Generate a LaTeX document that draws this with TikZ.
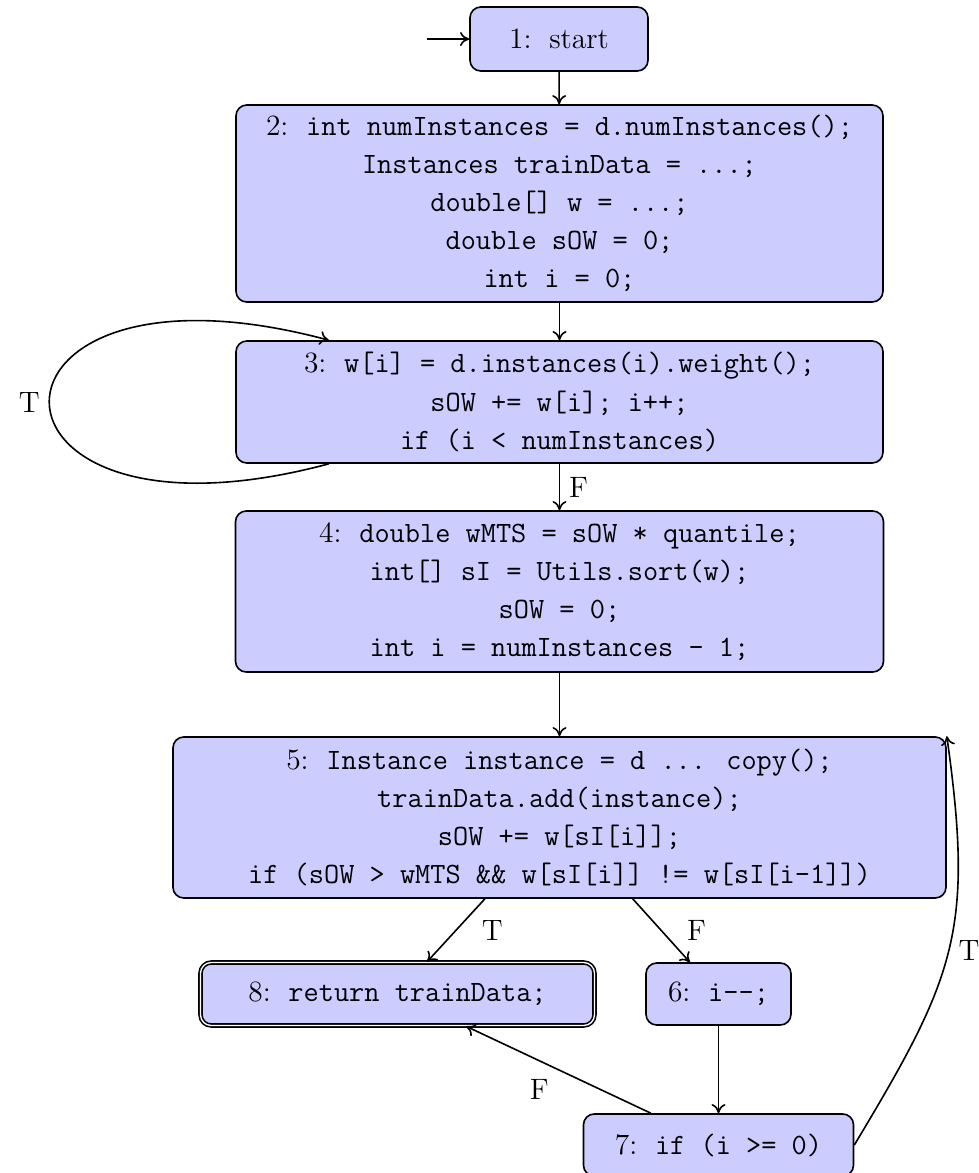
\documentclass[tikz,border=0pt]{standalone}
\usetikzlibrary{arrows.meta}
\newcommand{\gp}{\hspace{0.6em}}
\begin{document}
\begin{tikzpicture}[x=0.373pt,y=-0.373pt, semithick,
  >={To[length=3.4pt,width=5.2pt]},
  every node/.style={font=\fontsize{11}{14.2}\selectfont},
  stmt/.style={draw, fill=blue!20, rounded corners=4pt, align=center, inner sep=0pt},
  acc/.style={stmt, double, double distance=0.5pt},
  flow/.style={->}]
\useasboundingbox (0,0) rectangle (979,1173);

\node[stmt, minimum width=66.39pt, minimum height=23.87pt] (n1) at (559,39) {1:\gp start};
\node[stmt, minimum width=241.33pt, minimum height=73.48pt] (n2) at (559.5,203.5)
  {2:\gp\texttt{int numInstances = d.numInstances();}\\
   \texttt{Instances trainData = ...;}\\
   \texttt{double[] w = ...;}\\
   \texttt{double sOW = 0;}\\
   \texttt{int i = 0;}};
\node[stmt, minimum width=241.33pt, minimum height=45.51pt] (n3) at (559.5,402)
  {3:\gp\texttt{w[i] = d.instances(i).weight();}\\
   \texttt{sOW += w[i]; i++;}\\
   \texttt{if (i \textless{} numInstances)}};
\node[stmt, minimum width=241.7pt, minimum height=60.05pt] (n4) at (559.5,591.5)
  {4:\gp\texttt{double wMTS = sOW * quantile;}\\
   \texttt{int[] sI = Utils.sort(w);}\\
   \texttt{sOW = 0;}\\
   \texttt{int i = numInstances - 1;}};
\node[stmt, minimum width=288.33pt, minimum height=60.05pt] (n5) at (559.5,817.5)
  {5:\gp\texttt{Instance instance = d ... copy();}\\
   \texttt{trainData.add(instance);}\\
   \texttt{sOW += w[sI[i]];}\\
   \texttt{if (sOW \textgreater{} wMTS \&\& w[sI[i]] != w[sI[i-1]])}};
\node[acc, minimum width=146.96pt, minimum height=23.5pt] (n8) at (397.5,994)
  {8:\gp\texttt{return trainData;}};
\node[stmt, minimum width=54.09pt, minimum height=23.13pt] (n6) at (718.5,994)
  {6:\gp\texttt{i-{}-;}};
\node[stmt, minimum width=100.71pt, minimum height=23.13pt] (n7) at (718.5,1145)
  {7:\gp\texttt{if (i \textgreater= 0)}};

\coordinate (s0) at (427,39);
\draw[flow] (s0) -- (n1);
\draw[flow] (n1) -- (n2);
\draw[flow] (n2) -- (n3);
\draw[flow] (n3) to[out=195,in=165,looseness=8.0] node[left] {T} (n3);
\draw[flow] (n3) -- node[right] {F} (n4);
\draw[flow] (n4) -- (n5);
\draw[flow] (n5) -- node[right=6pt] {T} (n8);
\draw[flow] (n5) -- node[right=6pt] {F} (n6);
\draw[flow] (n6) -- (n7);
\draw[flow] (n7) -- node[below left] {F} (n8);
\draw[flow] (n7.east) to[out=59,in=278,looseness=1.2] node[right] {T} (n5.north east);
\end{tikzpicture}
\end{document}
